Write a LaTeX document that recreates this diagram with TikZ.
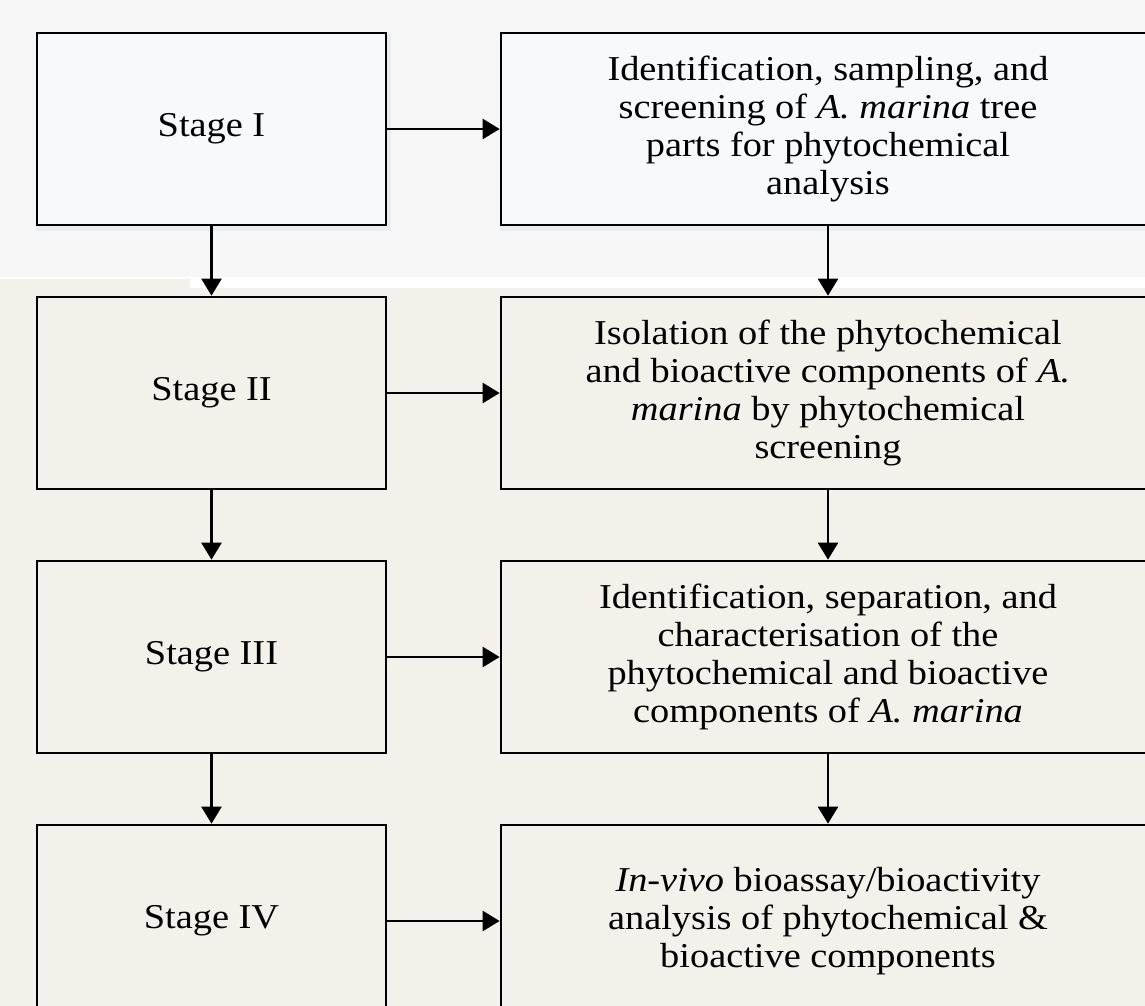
\documentclass[tikz,border=0pt]{standalone}
\usepackage{fontspec}
\setmainfont[FakeStretch=1.1]{Liberation Serif}
\usetikzlibrary{arrows.meta}
\definecolor{topbg}{HTML}{F7F7F7}
\definecolor{topbox}{HTML}{F8F9FA}
\definecolor{beige}{HTML}{F3F1E9}
\definecolor{softshadow}{HTML}{E9ECF1}
\begin{document}
\begin{tikzpicture}[x=1bp,y=-1bp,
  boxbase/.style={draw=black, line width=2.7bp, rectangle, minimum height=192bp, inner sep=0pt, font=\fontsize{35}{38}\selectfont, align=center},
  stagebox/.style={boxbase, minimum width=349bp},
  descbox/.style={boxbase, minimum width=654bp},
  arr/.style={line width=2.6bp, -{Triangle[width=20bp,length=17bp]}}]
\useasboundingbox (0,0) rectangle (1145,1006);
\fill[topbg] (0,0) rectangle (1145,278);
\fill[beige] (0,278) rectangle (1145,1006);
\fill[white] (0,276.5) rectangle (1145,279);
\fill[white] (190,276.5) rectangle (1145,288);
\begin{scope}
\clip (0,0) rectangle (1145,1006);
\draw[draw=softshadow, line width=5bp] (38,36) rectangle (388,228);
\draw[draw=softshadow, line width=5bp] (502,36) rectangle (1160,228);
\node[stagebox, fill=topbox] (s1) at (211.5,129) {Stage I};
\node[descbox, fill=topbox] (d1) at (828,129) {Identification, sampling, and\\screening of \textit{A. marina} tree\\parts for phytochemical\\analysis};
\node[stagebox, fill=beige] (s2) at (211.5,393) {Stage II};
\node[descbox, fill=beige] (d2) at (828,393) {Isolation of the phytochemical\\and bioactive components of \textit{A.}\\\textit{marina} by phytochemical\\screening};
\node[stagebox, fill=beige] (s3) at (211.5,657) {Stage III};
\node[descbox, fill=beige] (d3) at (828,657) {Identification, separation, and\\characterisation of the\\phytochemical and bioactive\\components of \textit{A. marina}};
\node[stagebox, fill=beige] (s4) at (211.5,921) {Stage IV};
\node[descbox, fill=beige] (d4) at (828,921) {\textit{In-vivo} bioassay/bioactivity\\analysis of phytochemical \&\\bioactive components};
\end{scope}
\draw[arr] (s1) -- (d1);
\draw[arr] (s2) -- (d2);
\draw[arr] (s3) -- (d3);
\draw[arr] (s4) -- (d4);
\draw[arr] (s1) -- (s2);
\draw[arr] (s2) -- (s3);
\draw[arr] (s3) -- (s4);
\draw[arr] (d1) -- (d2);
\draw[arr] (d2) -- (d3);
\draw[arr] (d3) -- (d4);
\end{tikzpicture}
\end{document}
